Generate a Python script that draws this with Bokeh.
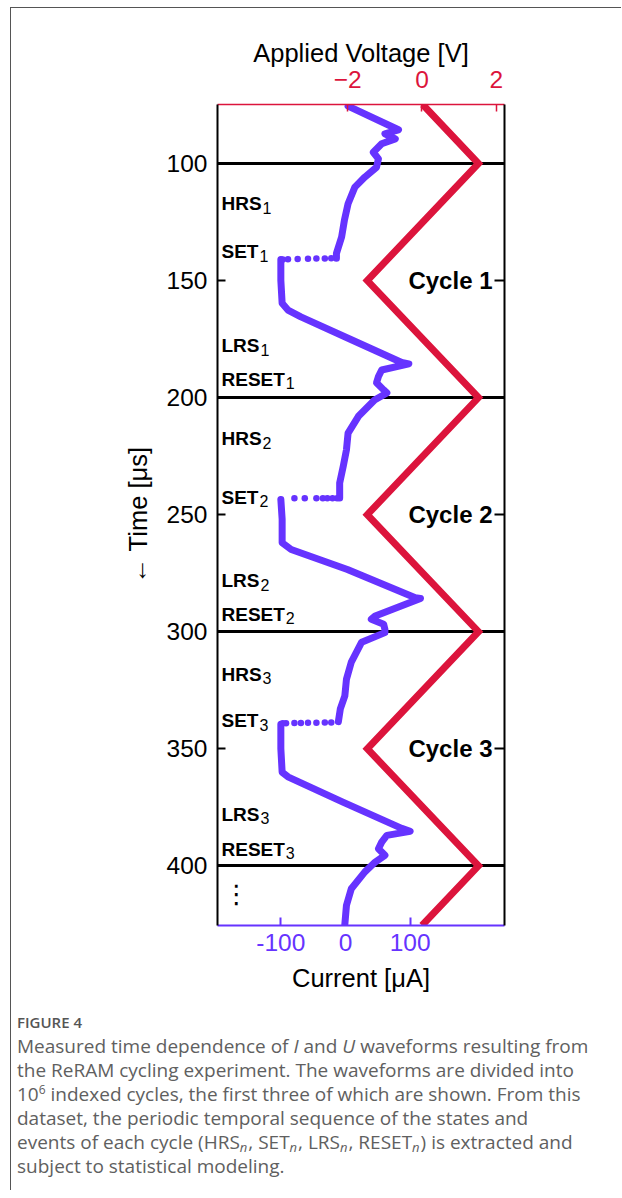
from bokeh.plotting import figure
from bokeh.models import Range1d, LinearAxis, FixedTicker, Div
from bokeh.layouts import column
from bokeh.embed import file_html
from bokeh.resources import INLINE
from bokeh.core.properties import value

# ---------------- data ----------------
# current trace, continuous parts (time in us, current in uA)
hrs1_t = [75.5, 85.6, 87.3, 89.5, 91.6, 95.2, 98.0, 101.6, 105.8, 110.1, 117.2, 124.0, 131.4, 138.4, 140.5]
hrs1_i = [4, 82, 61, 77, 56, 43, 51, 48, 30, 14.5, 4, -1.5, -6, -14, -14]
set1_t = [140.5, 140.6, 140.6, 140.7, 140.8, 140.9, 141.0]
set1_i = [-22, -32, -45, -58, -74, -89, -97]
lrs1_t = [141.0, 150.0, 159.7, 162.6, 165.5, 175.4, 185.0, 185.6, 188.2, 191.0, 193.7, 196.7, 198.0, 201.0,
          208.0, 215.2, 222.3, 229.4, 236.5, 242.9]
lrs1_i = [-100, -100, -98, -89, -69, 10, 87, 98, 56, 51, 48, 59, 64, 45, 20, 4, 1.5, -3.5, -9, -9]
set2_t = [243.0, 243.0, 243.0, 243.0, 243.0, 243.0, 243.0]
set2_i = [-13, -20, -28, -35, -45, -63, -79]
lrs2_t = [243.5, 252.0, 262.0, 264.9, 273.4, 285.5, 285.8, 293.3, 294.7, 296.8, 299.0, 300.4, 304.5, 313.0,
          320.3, 327.4, 333.0, 338.4]
lrs2_i = [-100, -98, -98, -84, 3, 108, 116, 46, 40, 59, 61, 61, 25, 9, 1.5, -1, -8, -11]
set3_t = [338.8, 338.8, 338.9, 338.9, 339.0, 339.0, 339.1, 339.1]
set3_i = [-22, -32, -45, -58, -69, -79, -92, -97]
lrs3_t = [339.5, 350.0, 360.0, 362.0, 372.8, 384.0, 385.3, 387.0, 389.9, 392.7, 395.5, 398.4, 402.6, 409.8,
          416.9, 425.0]
lrs3_i = [-100, -100, -98, -89, -4, 87, 100, 64, 56, 51, 61, 46, 30, 9, 1.5, -1]

# applied voltage (triangle)
volt_t = [74.8, 100, 150, 200, 250, 300, 350, 400, 425.5]
volt_v = [0.02, 1.52, -1.47, 1.52, -1.47, 1.52, -1.47, 1.52, 0.0]

# cycle boundaries
cycle_edges = [100, 200, 300, 400]
cycle_names = ["Cycle 1", "Cycle 2", "Cycle 3"]
cycle_mid = [150, 250, 350]

# state / event labels
state_names = ["HRS", "SET", "LRS", "RESET"] * 3
state_subs = ["1"] * 4 + ["2"] * 4 + ["3"] * 4
state_t = [117.2, 137.6, 177.8, 192.2, 217.6, 242.6, 278.2, 292.5, 318.2, 338.0, 377.9, 392.9]

time_ticks = [100, 150, 200, 250, 300, 350, 400]
current_ticks = [-100, 0, 100]
current_labels = {-100: "-100", 0: "0", 100: "100"}
volt_ticks = [-2, 0, 2]
volt_labels = {-2: "\u22122", 0: "0", 2: "2"}

I_RANGE = (-198, 246)
T_RANGE = (425.5, 74.8)
V_RANGE = (-5.50, 2.22)

PURPLE = "#6633ff"
RED = "#dc143c"
FONT = "Liberation Sans"

# ---------------- figure ----------------
p = figure(width=600, height=997,
           x_range=Range1d(*I_RANGE), y_range=Range1d(*T_RANGE),
           output_backend="svg", toolbar_location=None,
           min_border_left=206, min_border_right=107, min_border_top=96, min_border_bottom=80)
p.extra_x_ranges = {"volt": Range1d(*V_RANGE)}
p.outline_line_color = None
p.grid.visible = False

left_axis = p.yaxis[0]
bottom_axis = p.xaxis[0]

left_axis.ticker = FixedTicker(ticks=time_ticks)
left_axis.axis_label = "\u2190 Time [\u03bcs]"
bottom_axis.ticker = FixedTicker(ticks=current_ticks)
bottom_axis.major_label_overrides = current_labels
bottom_axis.axis_label = "Current [\u03bcA]"

top_axis = LinearAxis(x_range_name="volt", ticker=FixedTicker(ticks=volt_ticks),
                      axis_label="Applied Voltage [V]",
                      major_label_overrides=volt_labels)
p.add_layout(top_axis, "above")
right_axis = LinearAxis(ticker=FixedTicker(ticks=cycle_mid),
                        major_label_overrides={150: "", 250: "", 350: ""})
p.add_layout(right_axis, "right")

for ax, col in [(left_axis, "black"), (bottom_axis, PURPLE), (top_axis, RED), (right_axis, "black")]:
    ax.axis_line_color = col
    ax.axis_line_width = 2
    ax.major_tick_line_color = col
    ax.major_tick_line_width = 2
    ax.major_tick_in = 8
    ax.major_tick_out = 0
    ax.minor_tick_line_color = None
    ax.major_label_text_font = FONT
    ax.major_label_text_color = col
    ax.major_label_text_font_size = "24.5px"
    ax.axis_label_text_font = FONT
    ax.axis_label_text_font_style = "normal"
    ax.axis_label_text_color = "black"
    ax.axis_label_text_font_size = "25.5px"

right_axis.major_tick_in = 10
top_axis.axis_line_width = 1.5
top_axis.major_tick_line_width = 1.5
top_axis.major_tick_in = 7
left_axis.major_label_standoff = 10
left_axis.axis_label_standoff = 12
bottom_axis.major_label_standoff = 8
bottom_axis.axis_label_standoff = 10
top_axis.major_label_standoff = 17
top_axis.axis_label_standoff = 1

# cycle boundary lines
p.hspan(y=cycle_edges, line_color="black", line_width=3)

# voltage
p.line(volt_v, volt_t, x_range_name="volt", line_color=RED, line_width=7, line_join="miter")

# current
for tt, ii in [(hrs1_t, hrs1_i), (lrs1_t, lrs1_i), (lrs2_t, lrs2_i), (lrs3_t, lrs3_i)]:
    p.line(ii, tt, line_color=PURPLE, line_width=7, line_join="round", line_cap="round")
for tt, ii in [(set1_t, set1_i), (set2_t, set2_i), (set3_t, set3_i)]:
    p.scatter(ii, tt, size=6.5, fill_color=PURPLE, line_color=None)

# state labels with subscripts
BOLD_W = {"H": 0.722, "R": 0.722, "S": 0.667, "E": 0.667, "T": 0.611, "L": 0.611}
LBL_SIZE = 19
x0 = I_RANGE[0]
p.text([x0] * len(state_names), state_t, text=state_names, x_offset=4,
       text_font=value(FONT), text_font_style="bold", text_font_size="19px",
       text_align="left", text_baseline="middle", text_color="black")
sub_off = [4 + sum(BOLD_W[c] for c in n) * LBL_SIZE + 1 for n in state_names]
p.text([x0] * len(state_names), state_t, text=state_subs, x_offset=sub_off, y_offset=4,
       text_font=value(FONT), text_font_size="16px",
       text_align="left", text_baseline="middle", text_color="black")

# cycle labels
p.text([I_RANGE[1]] * 3, cycle_mid, text=cycle_names, x_offset=-12,
       text_font=value(FONT), text_font_style="bold", text_font_size="24px",
       text_align="right", text_baseline="middle", text_color="black")

# continuation dots
p.text([x0], [412], text=["\u22ee"], x_offset=19,
       text_font=value("DejaVu Sans"), text_font_size="26px",
       text_align="center", text_baseline="middle", text_color="black")

SUB = ('<span style="font-size:13px; line-height:0; vertical-align:-3px; '
       'margin-right:1px;"><i>n</i></span>')
caption = Div(text=(
    '<div style="font-family:\'Open Sans\'; color:#606060; padding-left:1px;">'
    '<div style="font-size:15px; font-weight:600; line-height:24px; color:#555;">FIGURE 4</div>'
    '<div style="font-size:19px; line-height:24px; white-space:nowrap;">'
    'Measured time dependence of <i>I</i> and <i>U</i> waveforms resulting from<br>'
    'the ReRAM cycling experiment. The waveforms are divided into<br>'
    '10<sup style="font-size:12px; line-height:0;">6</sup> indexed cycles, the first three of which are shown. From this<br>'
    'dataset, the periodic temporal sequence of the states and<br>'
    'events of each cycle (HRS' + SUB + ', SET' + SUB + ', LRS' + SUB + ', RESET' + SUB +
    ') is extracted and<br>'
    'subject to statistical modeling.</div></div>'),
    width=600, height=175)

layout = column(p, caption, margin=(7, 0, 0, 10),
                styles={"border-left": "1px solid #555", "border-top": "1px solid #555"})

open("out.html", "w").write(file_html(layout, INLINE))
